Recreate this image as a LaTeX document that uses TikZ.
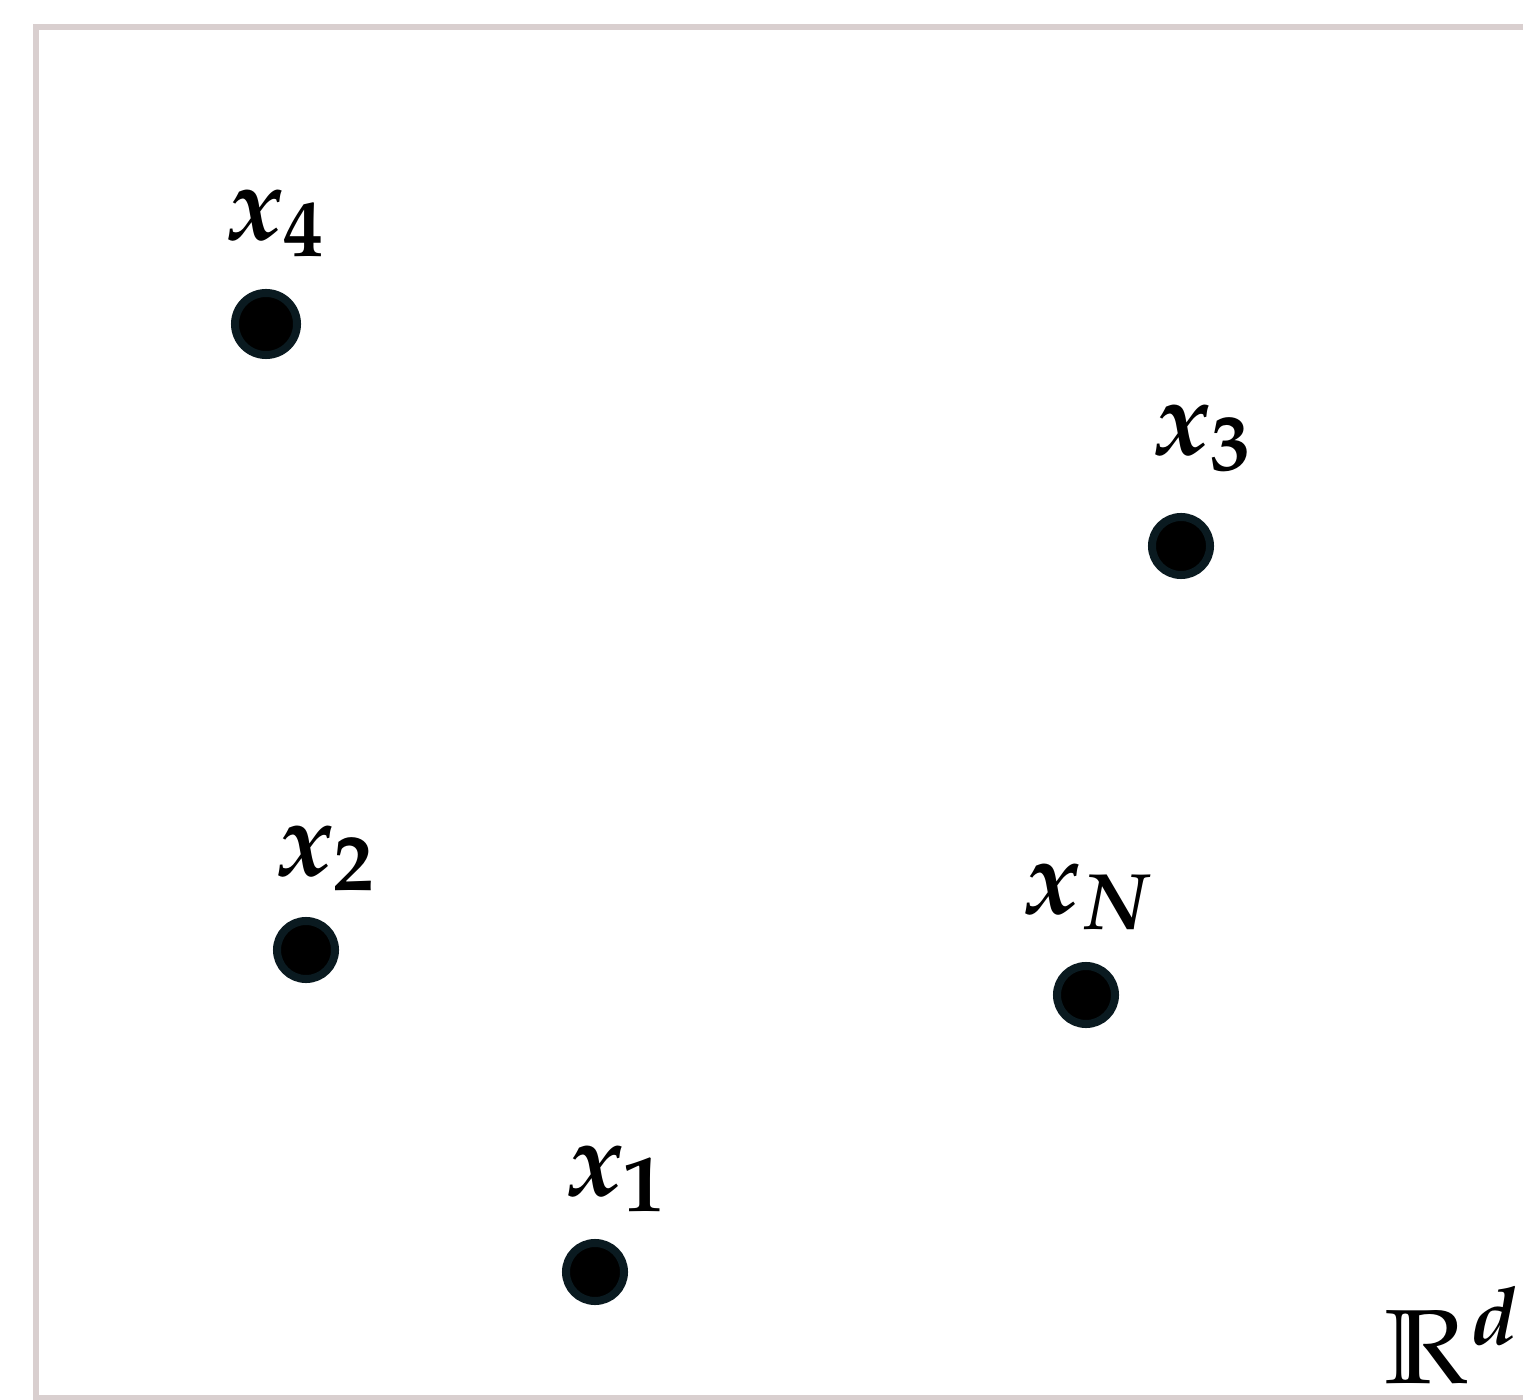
\documentclass[tikz,border=0pt]{standalone}
\usepackage{amsmath}
\usepackage{mathpazo}
\usepackage{xcolor}
\usepackage{tikz}
\usetikzlibrary{positioning}

\definecolor{frame}{RGB}{217,207,207}
\definecolor{dotrim}{RGB}{10,26,32}

\begin{document}
\begin{tikzpicture}[
  x=0.01cm, y=-0.01cm,
  sample/.style={circle, fill=black, draw=dotrim, line width=0.08cm, inner sep=0pt, minimum size=0.58cm},
  tag/.style={anchor=base west, inner sep=0pt, font=\fontsize{30}{36}\selectfont\boldmath}
]
\useasboundingbox (0,0) rectangle (1523,1400);

% frame of the space
\draw[frame, line width=0.06cm] (1600,27) -- (36,27) -- (36,1398) -- (1600,1398);

% samples
\node[sample, minimum size=0.62cm] (p4) at (266,324) {};
\node[sample] (p3) at (1181,546) {};
\node[sample] (p2) at (306,950) {};
\node[sample] (pN) at (1086,995) {};
\node[sample] (p1) at (595,1272) {};

% labels
\node[tag] (l4) at (226,240) {$x_4$};
\node[tag] (l3) at (1153,455) {$x_3$};
\node[tag] (l2) at (276,875) {$x_2$};
\node[tag] (lN) at (1023,913) {$x_N$};
\node[tag] (l1) at (566,1195) {$x_1$};

% space
\node[tag] (space) at (1384,1383) {$\mathbb{R}^d$};

\end{tikzpicture}
\end{document}
